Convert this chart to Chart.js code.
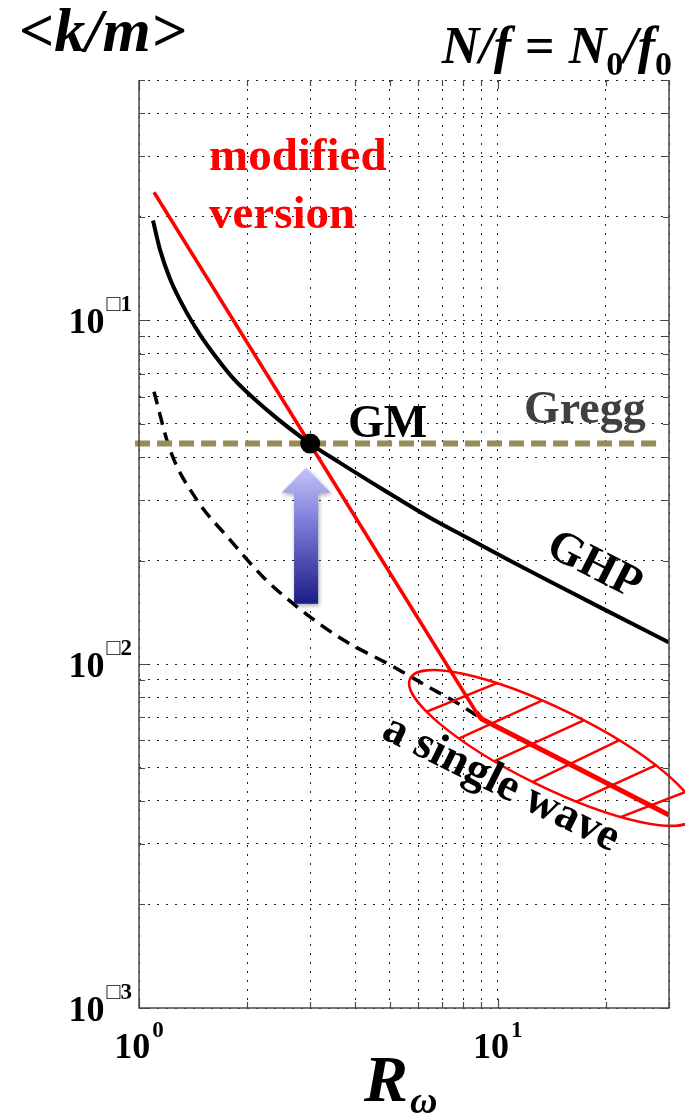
<!DOCTYPE html>
<html><head><meta charset="utf-8">
<script src="https://cdn.jsdelivr.net/npm/chart.js@4/dist/chart.umd.min.js"></script>
<style>html,body{margin:0;padding:0;background:#fff}canvas{display:block}</style>
</head><body>
<canvas id="c" width="685" height="1115"></canvas>
<script>
// ---- axis ticks ----
const xTickValues = [1,2,3,4,5,6,7,8,9,10,20,30];
const yTickValues = [0.001,0.002,0.003,0.004,0.005,0.006,0.007,0.008,0.009,
                     0.01,0.02,0.03,0.04,0.05,0.06,0.07,0.08,0.09,
                     0.1,0.2,0.3,0.4,0.5];
const xTickLabels = [{value:1, base:'10', exp:'0'}, {value:10, base:'10', exp:'1'}];
const yTickLabels = [{value:0.1, base:'10', exp:'\u25A11'}, {value:0.01, base:'10', exp:'\u25A12'}, {value:0.001, base:'10', exp:'\u25A13'}];

// ---- series ----
const ghpR = [1.094, 1.144, 1.220, 1.344, 1.479, 1.629, 1.833, 2.319, 3.0, 3.634, 4.698, 6.475, 8.371, 10.82, 14.92, 19.29, 30];
const ghpK = [0.1951, 0.1606, 0.1322, 0.1074, 0.0909, 0.0789, 0.0677, 0.0539, 0.0438, 0.0385, 0.0326, 0.02666, 0.02307, 0.01998, 0.01679, 0.01463, 0.01156];

const modR = [1.101, 8.70];
const modK = [0.2358, 0.00726];
const tailR = [8.70, 9.02, 30];
const tailK = [0.00726, 0.00693, 0.003641];

const waveR = [1.101, 1.22, 1.448, 1.794, 2.217, 2.752, 3.705, 5.01, 6.48, 7.69, 8.93];
const waveK = [0.0620, 0.04205, 0.0301, 0.0230, 0.01794, 0.01471, 0.01177, 0.00995, 0.00853, 0.00772, 0.00698];

const greggR = [0.975, 28.9];
const greggK = [0.0438, 0.0438];

const gmR = [3.0];
const gmK = [0.0438];

// arrow: R position; k values of tail, head base, tip
const arrowR = [2.922];
const arrowK = [0.01498, 0.0315, 0.03726];

// ellipse (single wave region): centre, end of major axis, minor/major ratio
const ellipseCenter = [14.17, 0.005705];
const ellipseTip = [35.24, 0.003581];
const ellipseRatio = [0.247];
const hatchStartR = [6.34, 7.85, 9.94, 12.54, 16.22, 22.17];
const hatchStartK = [0.007278, 0.006103, 0.005265, 0.004551, 0.003947, 0.003601];
const hatchEndR = [9.94, 13.37, 17.70, 22.17, 28.89, 34.45];
const hatchEndK = [0.008805, 0.007871, 0.006932, 0.006062, 0.005195, 0.004307];

const mk = (rs, ks) => rs.map((r, i) => ({x: r, y: ks[i]}));
const SERIF = '"Liberation Serif", "Times New Roman", serif';

const deco = {
  id: 'deco',
  afterDatasetsDraw(chart) {
    const ctx = chart.ctx, xs = chart.scales.x, ys = chart.scales.y;
    const X = v => xs.getPixelForValue(v), Y = v => ys.getPixelForValue(v);
    ctx.save();
    // ellipse + hatching
    const cx = X(ellipseCenter[0]), cy = Y(ellipseCenter[1]);
    const tx = X(ellipseTip[0]), ty = Y(ellipseTip[1]);
    const ea = Math.hypot(tx - cx, ty - cy), eb = ea * ellipseRatio[0];
    const ang = Math.atan2(ty - cy, tx - cx);
    ctx.strokeStyle = '#ff0000';
    ctx.lineWidth = 2.5;
    ctx.save();
    ctx.beginPath(); ctx.ellipse(cx, cy, ea, eb, ang, 0, Math.PI * 2); ctx.clip();
    for (let i = 0; i < hatchStartR.length; i++) {
      const x1 = X(hatchStartR[i]), y1 = Y(hatchStartK[i]);
      const x2 = X(hatchEndR[i]), y2 = Y(hatchEndK[i]);
      const dx = x2 - x1, dy = y2 - y1;
      ctx.beginPath();
      ctx.moveTo(x1 - dx * 0.3, y1 - dy * 0.3);
      ctx.lineTo(x2 + dx * 0.3, y2 + dy * 0.3);
      ctx.stroke();
    }
    ctx.restore();
    ctx.beginPath(); ctx.ellipse(cx, cy, ea, eb, ang, 0, Math.PI * 2); ctx.stroke();

    // arrow
    const ax = X(arrowR[0]);
    const yT = Y(arrowK[0]), yB = Y(arrowK[1]), yP = Y(arrowK[2]);
    const sw = 12, hw = 24.5;
    const grad = ctx.createLinearGradient(0, yP, 0, yT);
    grad.addColorStop(0, '#c4c4f8');
    grad.addColorStop(0.4, '#7c7cd8');
    grad.addColorStop(1, '#1c1c88');
    ctx.save();
    ctx.shadowColor = 'rgba(0,0,0,0.35)';
    ctx.shadowBlur = 4; ctx.shadowOffsetX = 1; ctx.shadowOffsetY = 2;
    ctx.beginPath();
    ctx.moveTo(ax, yP);
    ctx.lineTo(ax + hw, yB);
    ctx.lineTo(ax + sw, yB);
    ctx.lineTo(ax + sw, yT);
    ctx.lineTo(ax - sw, yT);
    ctx.lineTo(ax - sw, yB);
    ctx.lineTo(ax - hw, yB);
    ctx.closePath();
    ctx.fillStyle = grad;
    ctx.fill();
    ctx.restore();
    ctx.restore();
  },
  afterDraw(chart) {
    const ctx = chart.ctx, xs = chart.scales.x, ys = chart.scales.y;
    const X = v => xs.getPixelForValue(v), Y = v => ys.getPixelForValue(v);
    const a = chart.chartArea;
    ctx.save();
    // axes box (left, bottom, right)
    ctx.strokeStyle = '#4a4a4a';
    ctx.lineWidth = 1.5;
    ctx.beginPath();
    ctx.moveTo(a.left, a.top); ctx.lineTo(a.left, a.bottom); ctx.lineTo(a.right, a.bottom); ctx.lineTo(a.right, a.top);
    ctx.stroke();
    // tick marks
    ctx.lineWidth = 1.2;
    const isMajor = v => Math.abs(Math.log10(v) - Math.round(Math.log10(v))) < 1e-9;
    xTickValues.forEach(v => {
      const p = Math.round(X(v)) + 0.5, L = isMajor(v) ? 9 : 6;
      ctx.beginPath();
      ctx.moveTo(p, a.bottom); ctx.lineTo(p, a.bottom - L);
      ctx.moveTo(p, a.top); ctx.lineTo(p, a.top + L);
      ctx.stroke();
    });
    yTickValues.forEach(v => {
      const p = Math.round(Y(v)) + 0.5, L = isMajor(v) ? 9 : 6;
      ctx.beginPath();
      ctx.moveTo(a.left, p); ctx.lineTo(a.left + L, p);
      ctx.moveTo(a.right, p); ctx.lineTo(a.right - L, p);
      ctx.stroke();
    });
    // tick labels
    ctx.fillStyle = '#000';
    ctx.textBaseline = 'alphabetic';
    ctx.textAlign = 'left';
    const baseFont = 'bold 36px ' + SERIF, expFont = 'bold 23px ' + SERIF;
    yTickLabels.forEach(t => {
      const p = Y(t.value);
      ctx.font = expFont; const ew = ctx.measureText(t.exp).width;
      ctx.font = baseFont; const bw = ctx.measureText(t.base).width;
      const ex = a.left - 7 - ew;
      ctx.fillText(t.base, ex - 2 - bw, p + 12.6);
      ctx.font = expFont;
      ctx.fillText(t.exp, ex, p - 9);
    });
    xTickLabels.forEach(t => {
      const p = X(t.value);
      ctx.font = expFont; const ew = ctx.measureText(t.exp).width;
      ctx.font = baseFont; const bw = ctx.measureText(t.base).width;
      const sx = p - (bw + 2 + ew) / 2;
      ctx.fillText(t.base, sx, a.bottom + 50);
      ctx.font = expFont;
      ctx.fillText(t.exp, sx + bw + 2, a.bottom + 29);
    });
    // axis titles
    ctx.font = 'bold italic 62px ' + SERIF;
    ctx.fillText('<k/m>', 19, 51);
    // R_omega
    ctx.font = 'bold italic 66px ' + SERIF;
    const rw = ctx.measureText('R').width;
    ctx.fillText('R', 408 - rw, 1101);
    ctx.font = 'bold italic 38px ' + SERIF;
    ctx.fillText('\u03C9', 410, 1113);
    // N/f = N0/f0 : flowing pieces, gaps around "=" stretched to span 423..672
    const mainF = 'bold italic 52px ' + SERIF, subF = 'bold 34px ' + SERIF, eqF = 'bold 52px ' + SERIF;
    const pieces = [['N/f', mainF, 0], ['=', eqF, 0], ['N', mainF, 0], ['0', subF, 12], ['/f', mainF, 0], ['0', subF, 12]];
    const widths = pieces.map(pc => { ctx.font = pc[1]; return ctx.measureText(pc[0]).width; });
    const sum = widths.reduce((s, w) => s + w, 0);
    const gap = Math.max(4, Math.min(14, (249 - sum) / 2));
    let px = 672 - (sum + 2 * gap);
    pieces.forEach((pc, i) => {
      ctx.font = pc[1];
      ctx.fillText(pc[0], px, 63 + pc[2]);
      px += widths[i];
      if (i === 0 || i === 1) px += gap;
    });

    // annotations
    ctx.fillStyle = '#ff0000';
    ctx.font = 'bold 47px ' + SERIF;
    ctx.fillText('modified', 209, 170);
    ctx.fillText('version', 209, 228);
    ctx.fillStyle = '#000';
    ctx.font = 'bold 46px ' + SERIF;
    ctx.fillText('GM', 348, 437);
    ctx.fillStyle = '#404040';
    ctx.fillText('Gregg', 524, 423);
    ctx.fillStyle = '#000';
    ctx.textAlign = 'center'; ctx.textBaseline = 'middle';
    ctx.save(); ctx.translate(594, 566); ctx.rotate(27 * Math.PI / 180);
    ctx.fillText('GHP', 0, 0); ctx.restore();
    ctx.save(); ctx.translate(501, 784); ctx.rotate(26.4 * Math.PI / 180);
    ctx.fillText('a single wave', 0, 0); ctx.restore();
    ctx.restore();
  }
};

const gridOpts = {color: '#222', lineWidth: 1, drawTicks: false};
new Chart(document.getElementById('c').getContext('2d'), {
  type: 'line',
  data: {
    datasets: [
      {label: 'GM', data: mk(gmR, gmK), showLine: false, pointRadius: 10, pointBackgroundColor: '#000', pointBorderColor: '#000', pointBorderWidth: 0},
      {label: 'modified (tail)', data: mk(tailR, tailK), borderColor: '#ff0000', borderWidth: 5, pointRadius: 0},
      {label: 'modified version', data: mk(modR, modK), borderColor: '#ff0000', borderWidth: 3.5, pointRadius: 0},
      {label: 'GHP', data: mk(ghpR, ghpK), borderColor: '#000', borderWidth: 4, pointRadius: 0, cubicInterpolationMode: 'monotone'},
      {label: 'Gregg', data: mk(greggR, greggK), borderColor: '#968c58', borderWidth: 6, borderDash: [15, 7], pointRadius: 0, clip: false},
      {label: 'a single wave', data: mk(waveR, waveK), borderColor: '#000', borderWidth: 3.5, borderDash: [13, 8], pointRadius: 0, cubicInterpolationMode: 'monotone'}
    ]
  },
  options: {
    responsive: false, animation: false, devicePixelRatio: 1,
    layout: {padding: {left: 139, top: 80, right: 16, bottom: 107}},
    plugins: {legend: {display: false}, tooltip: {enabled: false}},
    scales: {
      x: {type: 'logarithmic', min: 1, max: 30,
          afterBuildTicks: s => { s.ticks = xTickValues.map(v => ({value: v})); },
          ticks: {display: false}, grid: gridOpts, border: {display: false, dash: [2, 7]}},
      y: {type: 'logarithmic', min: 0.001, max: 0.5,
          afterBuildTicks: s => { s.ticks = yTickValues.map(v => ({value: v})); },
          ticks: {display: false}, grid: gridOpts, border: {display: false, dash: [2, 7]}}
    }
  },
  plugins: [deco]
});
</script>
</body></html>
